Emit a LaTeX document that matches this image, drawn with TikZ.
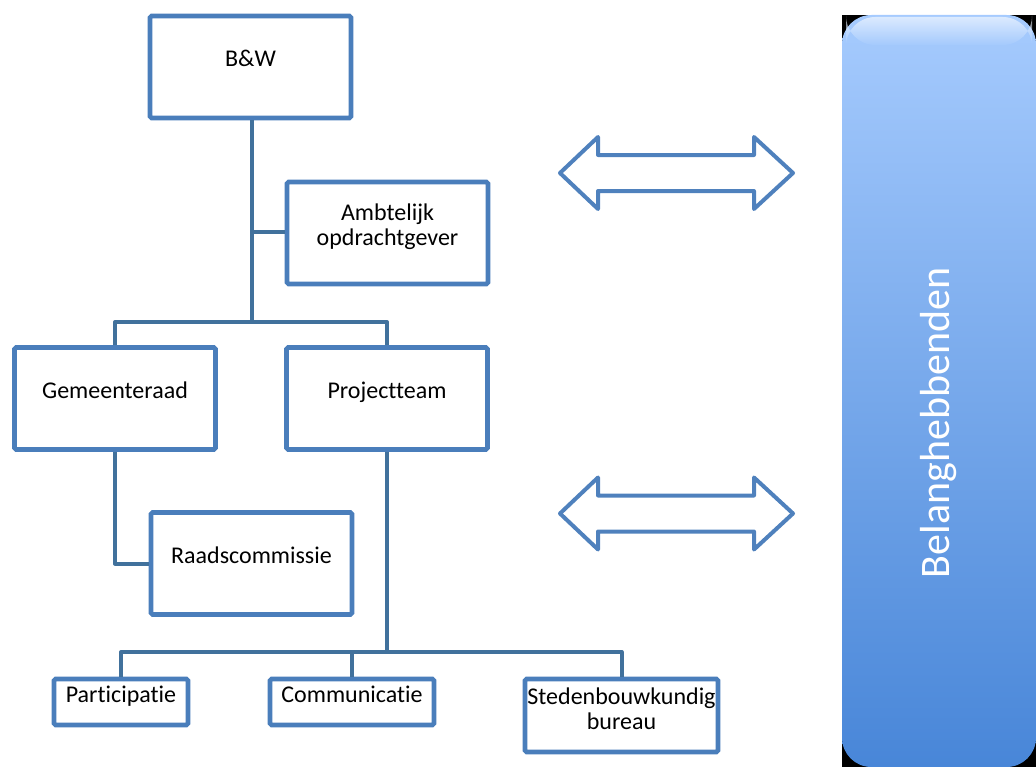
\documentclass[tikz,border=0pt]{standalone}
\usepackage{fontspec}
\setmainfont{Carlito}[Ligatures={NoCommon,NoContextual,NoRare}, Contextuals={NoAlternate}]
\definecolor{boxline}{HTML}{4A7EBB}
\definecolor{conline}{HTML}{41719C}
\definecolor{arrline}{HTML}{4F81BD}
\definecolor{paneltop}{HTML}{A6CBFE}
\definecolor{panelbot}{HTML}{4886D8}
\tikzset{
  orgbox/.style={draw=boxline, line width=3.4pt, rounded corners=1.2pt, fill=white,
    inner sep=0pt, font=\fontsize{18}{18.75}\selectfont, align=center},
  single/.style={text height=6pt, text depth=6pt},
  big/.style={orgbox, single, minimum width=150.75pt, minimum height=76.5pt},
  twoline/.style={text height=22pt, text depth=4pt},
  conn/.style={draw=conline, line width=3pt, line join=round},
  dblarrow/.style={draw=arrline, line width=3pt, line join=round},
}
\begin{document}
\begin{tikzpicture}[x=0.75pt, y=-0.75pt]
\useasboundingbox (0,0) rectangle (1036,767);

% junctions
\coordinate (j1) at (252,322);
\coordinate (j2) at (252,232);
\coordinate (j3) at (115,563.5);
\coordinate (j4) at (387,652);

% boxes
\node[big] (bw) at (250.5,67) {B\&W};
\node[orgbox, twoline, minimum width=150.75pt, minimum height=76.5pt] (ao) at (387.5,233) {Ambtelijk\\opdrachtgever};
\node[big] (gr) at (115,398.5) {Gemeenteraad};
\node[big] (pt) at (387,398.5) {Projectteam};
\node[big] (rc) at (251.5,563.5) {Raadscommissie};
\node[orgbox, single, minimum width=100.5pt, minimum height=34.5pt] (pa) at (121,702) {Part\kern0pt icipat\kern0pt ie};
\node[orgbox, single, minimum width=123pt, minimum height=34.5pt] (co) at (352,702) {Communicat\kern0pt ie};
\node[orgbox, twoline, text height=23.5pt, text depth=2.5pt, minimum width=144.75pt, minimum height=54.75pt] (sb) at (621.5,715.5) {Stedenbouwkundig\\bureau};

% connectors
\draw[conn] (bw.south -| j1) -- (j1);
\draw[conn] (j2) -- (ao.west |- j2);
\draw[conn] (gr.north) -- (gr.north |- j1) -- (pt.north |- j1) -- (pt.north);
\draw[conn] (gr.south) -- (j3) -- (rc.west);
\draw[conn] (pt.south) -- (j4);
\draw[conn] (pa.north) -- (pa.north |- j4) -- (sb.north |- j4) -- (sb.north);
\draw[conn] (co.north) -- (co.north |- j4);

% double arrows
\draw[dblarrow] (560,173) -- (598,137) -- (598,155) -- (754,155) -- (754,137) -- (793,173)
  -- (754,209) -- (754,191) -- (598,191) -- (598,209) -- cycle;
\draw[dblarrow] (560,513.5) -- (598,477.5) -- (598,495.5) -- (754,495.5) -- (754,477.5) -- (793,513.5)
  -- (754,549.5) -- (754,531.5) -- (598,531.5) -- (598,549.5) -- cycle;

% stakeholder panel
\fill[black] (842,15) rectangle (1036,767);
\shade[top color=paneltop, bottom color=panelbot, rounded corners=22pt]
  (842,15) rectangle (1036,767);
\shade[top color=white, bottom color=paneltop, rounded corners=22pt, opacity=0.6]
  (846,17) rectangle (1032,45);
\node[text=white, rotate=90, font=\fontsize{31.5}{36}\selectfont, inner sep=0pt] (bh) at (939,423) {Belanghebbenden};
\end{tikzpicture}
\end{document}
